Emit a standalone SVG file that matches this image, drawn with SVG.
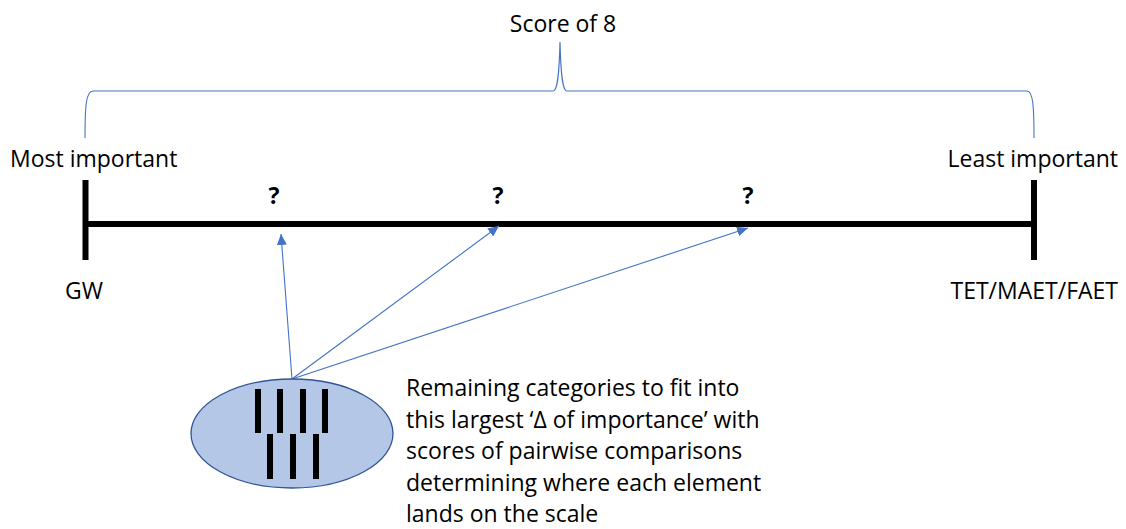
<svg xmlns="http://www.w3.org/2000/svg" width="1126" height="529" viewBox="0 0 1126 529">
<defs>
<style>
.t{font-family:"Open Sans","Liberation Sans",sans-serif;font-size:23px;fill:#000}
.q{font-family:"Open Sans","Liberation Sans",sans-serif;font-size:23px;font-weight:bold;fill:#000;text-anchor:middle}
.bar{stroke:#000;stroke-width:6;fill:none}
.conn{stroke:#4472C4;stroke-width:1.1;fill:none}
</style>
<marker id="ah" markerUnits="userSpaceOnUse" markerWidth="12" markerHeight="10" refX="11" refY="5" orient="auto">
<path d="M0,0 L11,5 L0,10 Z" fill="#4472C4"/>
</marker>
</defs>
<rect width="1126" height="529" fill="#fff"/>
<g id="brace">
<path class="conn" d="M85,138 C85,106 86,91 93,91 L553,91 C557,91 559,80 560,42 C561,80 563,91 567,91 L1027,91 C1033,91 1034,106 1034,138"/>
<text class="t" x="563" y="32" text-anchor="middle">Score of 8</text>
</g>
<g id="scale">
<line class="bar" x1="85" y1="224" x2="1034" y2="224"/>
<line class="bar" x1="85.5" y1="180" x2="85.5" y2="260"/>
<line class="bar" x1="1034" y1="180" x2="1034" y2="260"/>
</g>
<g id="most">
<text class="t" x="10" y="167">Most important</text>
<text class="t" x="65" y="299">GW</text>
</g>
<g id="least">
<text class="t" x="1118" y="167" text-anchor="end">Least important</text>
<text class="t" x="1118" y="299" text-anchor="end">TET/MAET/FAET</text>
</g>
<g id="marks">
<text class="q" x="274" y="204">?</text>
<text class="q" x="498" y="204">?</text>
<text class="q" x="748" y="204">?</text>
</g>
<g id="connectors">
<line class="conn" x1="292" y1="379" x2="281" y2="234" marker-end="url(#ah)"/>
<line class="conn" x1="292" y1="379" x2="499" y2="226" marker-end="url(#ah)"/>
<line class="conn" x1="292" y1="379" x2="748" y2="228" marker-end="url(#ah)"/>
</g>
<g id="categories">
<ellipse cx="292" cy="433.5" rx="101" ry="54.5" fill="#B4C7E7" stroke="#2F5597" stroke-width="1.3"/>
<line class="bar" x1="258" y1="389" x2="258" y2="433"/>
<line class="bar" x1="280" y1="389" x2="280" y2="433"/>
<line class="bar" x1="303" y1="389" x2="303" y2="433"/>
<line class="bar" x1="325" y1="389" x2="325" y2="433"/>
<line class="bar" x1="270" y1="434" x2="270" y2="479"/>
<line class="bar" x1="293" y1="434" x2="293" y2="479"/>
<line class="bar" x1="316" y1="434" x2="316" y2="479"/>
</g>
<g id="note">
<text class="t" x="406" y="396">Remaining categories to fit into</text>
<text class="t" x="406" y="427.5">this largest ‘Δ of importance’ with</text>
<text class="t" x="406" y="459">scores of pairwise comparisons</text>
<text class="t" x="406" y="490.5">determining where each element</text>
<text class="t" x="406" y="522">lands on the scale</text>
</g>
</svg>
